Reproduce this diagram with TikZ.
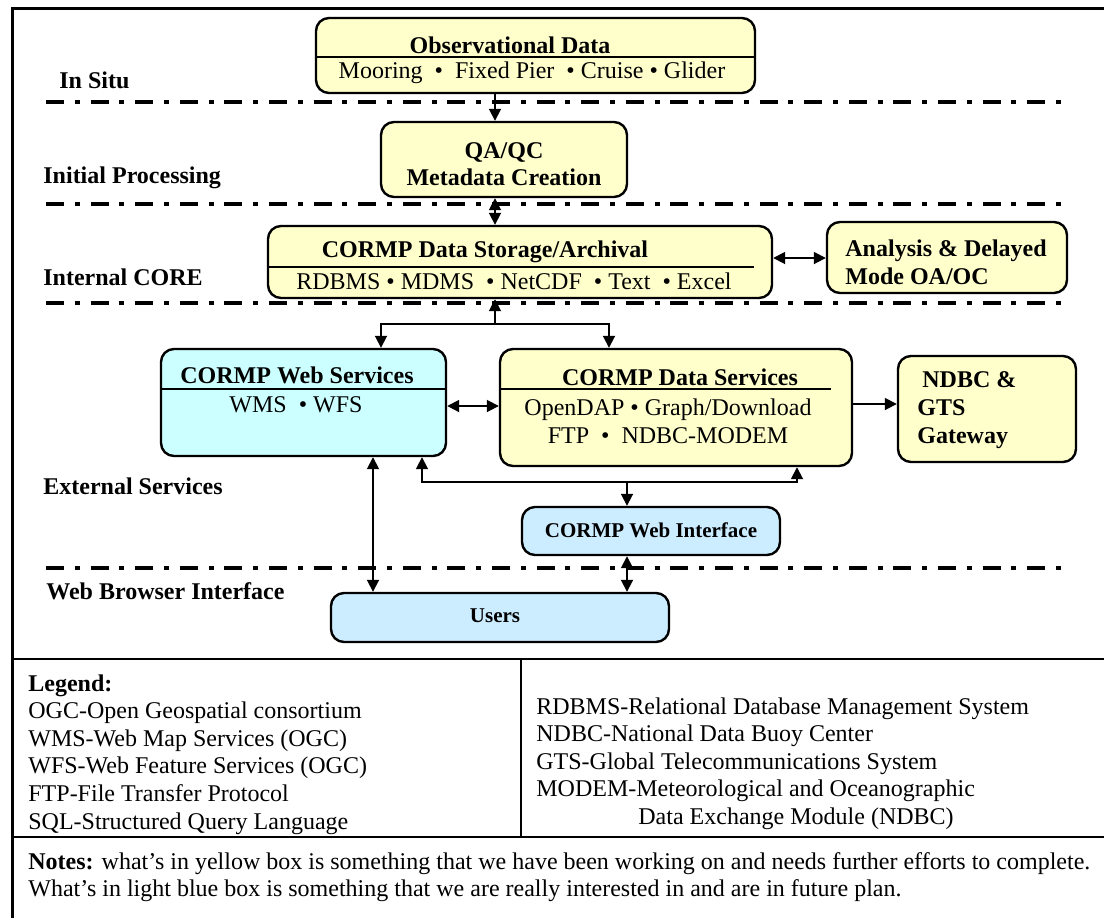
\documentclass[tikz,border=0pt]{standalone}
\usepackage{fontspec}
\setmainfont{Liberation Serif}
\usetikzlibrary{fit,arrows.meta,positioning}
\definecolor{boxyellow}{HTML}{FFFFCC}
\definecolor{boxcyan}{HTML}{CCFFFF}
\definecolor{boxblue}{HTML}{CCECFF}
\newcommand\basefont{\fontsize{12}{13.8}\selectfont}
\newcommand\smallbold{\fontsize{10.5}{12}\selectfont\bfseries}
\tikzset{
  ybox/.style={draw, fill=boxyellow, rounded corners=6.5pt, line width=1.2pt, inner sep=0pt},
  cybox/.style={ybox, fill=boxcyan},
  blbox/.style={ybox, fill=boxblue},
  layerline/.style={line width=2pt, dash pattern=on 9pt off 5.4pt on 2.5pt off 5.4pt},
  layerlabel/.style={anchor=west, font=\basefont\bfseries, inner sep=0pt},
  boxtitle/.style={font=\basefont\bfseries, inner sep=0pt},
  boxitems/.style={inner sep=0pt, align=center},
  divider/.style={line width=1pt},
  flow/.style={line width=0.9pt, -{Triangle[length=6pt,width=6pt]}},
  dflow/.style={flow, {Triangle[length=6pt,width=6pt]}-{Triangle[length=6pt,width=6pt]}},
}
\begin{document}
\begin{tikzpicture}[x=0.5pt, y=-0.5pt, font=\basefont]
    \useasboundingbox (0,0) rectangle (1104,918);
    % Frame
    \draw[line width=1.5pt] (12,918) -- (12,8) -- (1104,8);
    
    % Layer borders
    \foreach \y in {102,204,303,568}
        \draw[layerline] (46,\y) -- (1067,\y);
    
    % Layer names
    \node[layerlabel] (insitu) at (59,80) {In Situ};
    \node[layerlabel] (initial) at (43,178) {Initial Processing};
    \node[layerlabel] (internal) at (43,277) {Internal CORE};
    \node[layerlabel] (external) at (43,486) {External Services};
    \node[layerlabel] (browser) at (46,591) {Web Browser Interface};
    
    % Observational data
    \node[ybox, fit={(316,18) (755,93)}] (obs) {};
    \draw[divider] (obs.west |- 0,57) -- (obs.east |- 0,57);
    \node[boxtitle] (obstitle) at (510,45) {Observational Data};
    \node[boxitems] (obsitems) at (532,73) {Mooring \ \textbullet\ \ Fixed Pier \ \textbullet\ Cruise \textbullet\ Glider};
    
    % QA/QC
    \node[ybox, fit={(381,122) (627,197)}] (qa) {};
    \node[boxtitle, align=center] (qatext) at (504,164) {QA/QC\\Metadata Creation};
    
    % Storage and analysis
    \node[ybox, fit={(268,226) (772,298)}] (storage) {};
    \draw[divider] (storage.west |- 0,267) -- (754,267);
    \node[boxtitle] (storagetitle) at (485,252) {CORMP Data Storage/Archival};
    \node[boxitems] (storageitems) at (514,281) {RDBMS \textbullet\ MDMS \ \textbullet\ NetCDF \ \textbullet\ Text \ \textbullet\ Excel};
    \node[ybox, fit={(827,222) (1067,293)}] (analysis) {};
    \node[boxtitle, align=left, anchor=west] (analysistext) at (845,262) {Analysis \& Delayed\\Mode OA/OC};
    
    % Services
    \node[cybox, fit={(161,349) (446,456)}] (web) {};
    \draw[divider] (web.west |- 0,389) -- (web.east |- 0,389);
    \node[boxtitle] (webtitle) at (297,375) {CORMP Web Services};
    \node[boxitems] (webitems) at (296,405) {WMS \ \textbullet\ WFS};
    \node[ybox, fit={(500,349) (852,466)}] (data) {};
    \draw[divider] (data.west |- 0,389) -- (831,389);
    \node[boxtitle] (datatitle) at (680,377) {CORMP Data Services};
    \node[boxitems] (dataitems) at (668,421) {OpenDAP \textbullet\ Graph/Download\\FTP \ \textbullet\ \ NDBC-MODEM};
    \node[ybox, fit={(898,356) (1076,462)}] (ndbc) {};
    \node[boxtitle, align=left, anchor=west] (ndbctext) at (917,410) {\hspace*{2.5pt}NDBC \&\\GTS\\Gateway};
    \node[blbox, fit={(522,507) (780,555)}] (webint) {};
    \node[boxtitle, font=\smallbold] (webinttext) at (651,530) {CORMP Web Interface};
    
    % Users
    \node[blbox, fit={(331,593) (669,642)}] (users) {};
    \node[boxtitle, font=\smallbold] (userstext) at (495,616) {Users};
    
    % Connectors
    \coordinate (spine) at (495,0);
    \coordinate (split) at (495,324);
    \coordinate (webtap) at (381,0);
    \coordinate (datatap) at (609,0);
    \coordinate (merge) at (627,482);
    \coordinate (webback) at (422,0);
    \coordinate (databack) at (797,0);
    \coordinate (userlink) at (373,0);
    \draw[flow] (spine |- obs.south) -- (spine |- qa.north);
    \draw[dflow] (spine |- qa.south) -- (spine |- storage.north);
    \draw[dflow] (storage.east |- 0,258) -- (analysis.west |- 0,258);
    \draw[flow] (split) -- (spine |- storage.south);
    \draw[flow] (split) -| (webtap |- web.north);
    \draw[flow] (split) -| (datatap |- data.north);
    \draw[dflow] (web.east |- 0,406) -- (data.west |- 0,406);
    \draw[flow] (data.east |- 0,404) -- (ndbc.west |- 0,404);
    \draw[flow] (merge) -| (webback |- web.south);
    \draw[flow] (merge) -| (databack |- data.south);
    \draw[flow] (merge) -- (merge |- webint.north);
    \draw[dflow] (userlink |- web.south) -- (userlink |- users.north);
    \draw[dflow] (merge |- webint.south) -- (merge |- users.north);
    
    % Legend table
    \draw[divider] (12,659) -- (1104,659);
    \draw[divider] (12,837) -- (1104,837);
    \draw[divider] (521,659) -- (521,837);
    \node[anchor=north west, inner sep=0pt, align=left] (legendleft) at (28,674) {\textbf{Legend:}\\OGC-Open Geospatial consortium\\WMS-Web Map Services (OGC)\\WFS-Web Feature Services (OGC)\\FTP-File Transfer Protocol\\SQL-Structured Query Language};
    \node[anchor=north west, inner sep=0pt, align=left] (legendright) at (536,697) {RDBMS-Relational Database Management System\\NDBC-National Data Buoy Center\\GTS-Global Telecommunications System\\MODEM-Meteorological and Oceanographic\\\hspace*{51pt}Data Exchange Module (NDBC)};
    
    % Notes
    \node[anchor=north west, inner sep=0pt, align=left] (notes) at (28,852) {\textbf{Notes:} what’s in yellow box is something that we have been working on and needs further efforts to complete.\\What’s in light blue box is something that we are really interested in and are in future plan.};
\end{tikzpicture}
\end{document}
